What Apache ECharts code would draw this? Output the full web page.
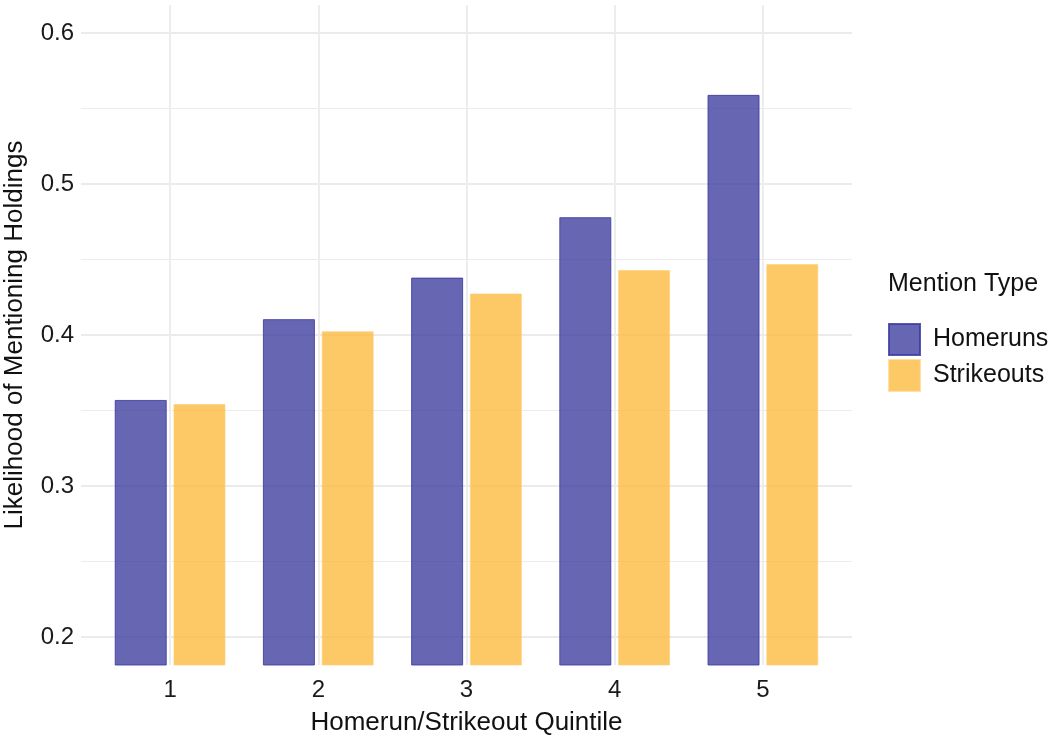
<!DOCTYPE html>
<html>
<head>
<meta charset="utf-8">
<script src="https://cdn.jsdelivr.net/npm/echarts@6/dist/echarts.min.js"></script>
<style>html,body{margin:0;padding:0;background:#fff}#c{width:1050px;height:737px}</style>
</head>
<body>
<div id="c"></div>
<script>
var categories = ['1', '2', '3', '4', '5'];
var homeruns = [0.357, 0.4105, 0.438, 0.478, 0.559];
var strikeouts = [0.3543, 0.4025, 0.4275, 0.443, 0.447];
var yMajorTicks = [0.2, 0.3, 0.4, 0.5, 0.6];
var yMinorTicks = [0.25, 0.35, 0.45, 0.55];
var seriesNames = ['Homeruns', 'Strikeouts'];
var legendTitle = 'Mention Type';
var xTitle = 'Homerun/Strikeout Quintile';
var yTitle = 'Likelihood of Mentioning Holdings';

var FONT = "'Liberation Sans', Arial, sans-serif";
var chart = echarts.init(document.getElementById('c'), null, {renderer: 'canvas'});

var hLines = [];
yMajorTicks.forEach(function (v) { hLines.push({yAxis: v, lineStyle: {width: 2, color: '#ebebeb', type: 'solid'}}); });
yMinorTicks.forEach(function (v) { hLines.push({yAxis: v, lineStyle: {width: 1, color: '#ececec', type: 'solid'}}); });
var vLines = [];
categories.forEach(function (c) { vLines.push({xAxis: c, lineStyle: {width: 2, color: '#ededed', type: 'solid'}}); });

var YMIN = 0.1815, YMAX = 0.6185;

chart.setOption({
  animation: false,
  textStyle: {fontFamily: FONT},
  title: {
    text: legendTitle, left: 888, top: 272, padding: 0,
    textStyle: {fontFamily: FONT, fontSize: 25, fontWeight: 'normal', color: '#111'}
  },
  legend: {
    data: seriesNames, orient: 'vertical', left: 888, top: 323, padding: 0,
    itemWidth: 31, itemHeight: 31, itemGap: 3, icon: 'rect',
    textStyle: {fontFamily: FONT, fontSize: 25, color: '#111', padding: [0, 0, 0, 8]}
  },
  grid: [
    {left: 81, right: 198, top: 5, bottom: 72, containLabel: false, outerBoundsMode: 'none'},
    {left: 96, right: 213, top: 5, bottom: 72, containLabel: false, outerBoundsMode: 'none'}
  ],
  xAxis: [
    {
      gridIndex: 0, type: 'value', min: 0, max: 1, show: false
    },
    {
      gridIndex: 1, type: 'category', data: categories,
      axisLine: {show: false}, axisTick: {show: false}, splitLine: {show: false},
      axisLabel: {fontSize: 24, color: '#1a1a1a', margin: 13, fontFamily: FONT},
      name: xTitle, nameLocation: 'middle', nameGap: 45,
      nameTextStyle: {fontSize: 26, color: '#111', fontFamily: FONT}
    }
  ],
  yAxis: [
    {
      gridIndex: 0, type: 'value', min: YMIN, max: YMAX,
      axisLine: {show: false}, axisTick: {show: false}, splitLine: {show: false},
      axisLabel: {
        customValues: yMajorTicks, fontSize: 24, color: '#1a1a1a', margin: 7, fontFamily: FONT,
        formatter: function (v) { return v.toFixed(1); }
      },
      name: yTitle, nameLocation: 'middle', nameGap: 53, nameRotate: 90,
      nameTextStyle: {fontSize: 26, color: '#111', fontFamily: FONT}
    },
    {
      gridIndex: 1, type: 'value', min: YMIN, max: YMAX, show: false
    }
  ],
  series: [
    {
      name: '_hgrid', type: 'line', data: [], silent: true, z: 0,
      xAxisIndex: 0, yAxisIndex: 0,
      markLine: {silent: true, z: 1, symbol: 'none', label: {show: false}, animation: false, data: hLines}
    },
    {
      name: '_vgrid', type: 'line', data: [], silent: true, z: 0,
      xAxisIndex: 1, yAxisIndex: 1,
      markLine: {silent: true, z: 1, symbol: 'none', label: {show: false}, animation: false, data: vLines}
    },
    {
      name: seriesNames[0], type: 'bar', data: homeruns, z: 10,
      xAxisIndex: 1, yAxisIndex: 1,
      barWidth: 52, barGap: '13%',
      itemStyle: {color: 'rgba(64,64,160,0.8)', borderColor: 'rgba(60,60,165,0.85)', borderWidth: 1}
    },
    {
      name: seriesNames[1], type: 'bar', data: strikeouts, z: 10,
      xAxisIndex: 1, yAxisIndex: 1,
      barWidth: 52, barGap: '13%',
      itemStyle: {color: 'rgba(252,186,64,0.8)', borderColor: 'rgba(255,205,110,0.6)', borderWidth: 1}
    }
  ]
});
</script>
</body>
</html>
